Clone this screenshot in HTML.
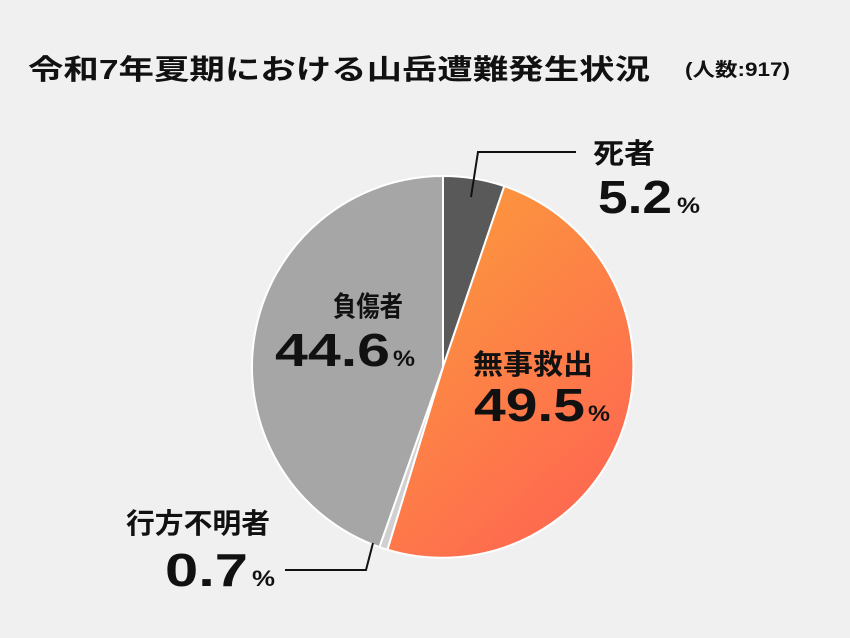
<!DOCTYPE html>
<html><head><meta charset="utf-8"><style>
html,body{margin:0;padding:0;background:#f0f0f0;}
svg{display:block;}
text{font-family:"Liberation Sans","Noto Sans CJK JP",sans-serif;fill:#111;}
</style></head><body>
<svg width="850" height="638" viewBox="0 0 850 638" xmlns="http://www.w3.org/2000/svg">
<defs>
<linearGradient id="g" x1="0.2" y1="0" x2="0.8" y2="1">
<stop offset="0" stop-color="#fb9a3c"/>
<stop offset="1" stop-color="#ff6452"/>
</linearGradient>
</defs>
<rect width="850" height="638" fill="#f0f0f0"/>
<text x="28" y="79" font-size="28" font-weight="bold" textLength="622" lengthAdjust="spacingAndGlyphs">令和7年夏期における山岳遭難発生状況</text>
<text x="685" y="76" font-size="19" font-weight="bold" textLength="105" lengthAdjust="spacingAndGlyphs">(人数:917)</text>
<g stroke="#ffffff" stroke-width="2" stroke-linejoin="round">
<path d="M443,367 L443,176 A191,191 0 0 1 504.3,186.1 Z" fill="#595959"/>
<path d="M443,367 L504.3,186.1 A191,191 0 0 1 387.4,549.7 Z" fill="url(#g)"/>
<path d="M443,367 L387.4,549.7 A191,191 0 0 1 379.4,547.1 Z" fill="#d0d0d0"/>
<path d="M443,367 L379.4,547.1 A191,191 0 0 1 443,176 Z" fill="#a6a6a6"/>
</g>
<polyline points="471,197 478,152 576,152" fill="none" stroke="#111" stroke-width="2"/>
<polyline points="373,543 366,570 285,570" fill="none" stroke="#111" stroke-width="2"/>
<text x="593" y="163" font-size="28" font-weight="bold" textLength="62" lengthAdjust="spacingAndGlyphs">死者</text>
<text x="598" y="213" font-size="46" font-weight="bold" textLength="74" lengthAdjust="spacingAndGlyphs">5.2</text>
<text x="677" y="213" font-size="22" font-weight="bold" textLength="23" lengthAdjust="spacingAndGlyphs">%</text>
<text x="333" y="316" font-size="28" font-weight="bold" textLength="70" lengthAdjust="spacingAndGlyphs">負傷者</text>
<text x="275" y="366" font-size="46" font-weight="bold" textLength="115" lengthAdjust="spacingAndGlyphs">44.6</text>
<text x="393" y="366" font-size="22" font-weight="bold" textLength="22" lengthAdjust="spacingAndGlyphs">%</text>
<text x="473" y="374" font-size="28" font-weight="bold" textLength="120" lengthAdjust="spacingAndGlyphs">無事救出</text>
<text x="474" y="421" font-size="46" font-weight="bold" textLength="111" lengthAdjust="spacingAndGlyphs">49.5</text>
<text x="588" y="421" font-size="22" font-weight="bold" textLength="22" lengthAdjust="spacingAndGlyphs">%</text>
<text x="126" y="533" font-size="28" font-weight="bold" textLength="144" lengthAdjust="spacingAndGlyphs">行方不明者</text>
<text x="165" y="586" font-size="46" font-weight="bold" textLength="83" lengthAdjust="spacingAndGlyphs">0.7</text>
<text x="252" y="586" font-size="22" font-weight="bold" textLength="23" lengthAdjust="spacingAndGlyphs">%</text>
</svg>
</body></html>
